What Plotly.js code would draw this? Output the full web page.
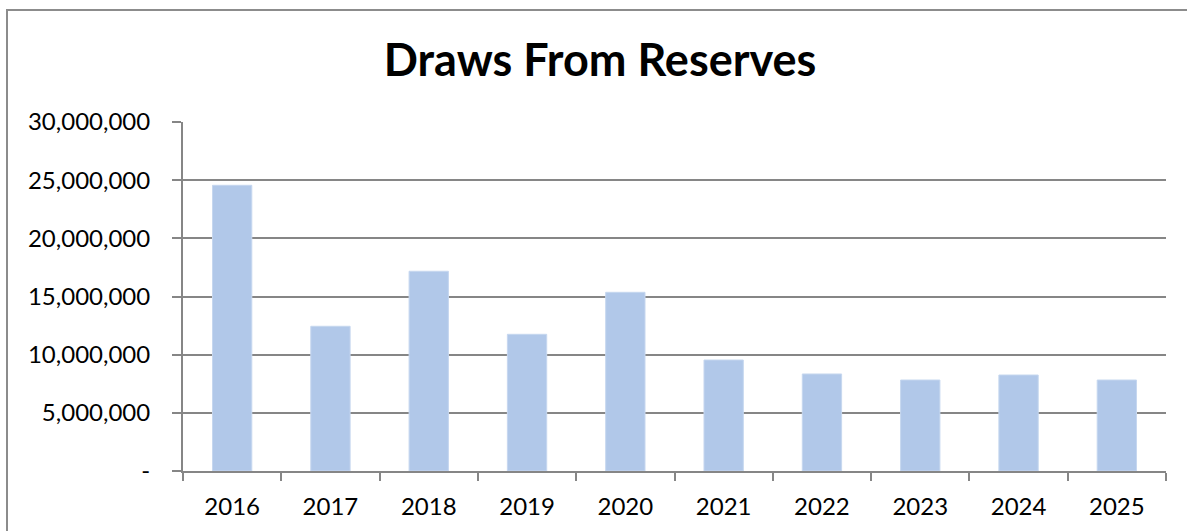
<!DOCTYPE html>
<html>
<head>
<meta charset="utf-8">
<script src="https://cdn.plot.ly/plotly-3.0.1.min.js"></script>
<style>
  html, body { margin: 0; padding: 0; background: #fff; }
  #wrap { position: relative; width: 1187px; height: 531px; overflow: hidden; }
  #chart { position: absolute; left: 0; top: 0; width: 1187px; height: 531px; }
  #frame { position: absolute; left: 6px; top: 9px; width: 1300px; height: 700px;
           border: 2px solid #8c8c8c; pointer-events: none; box-sizing: border-box; }
</style>
</head>
<body>
<div id="wrap">
  <div id="chart"></div>
  <div id="frame"></div>
</div>
<script>
const years = ["2016", "2017", "2018", "2019", "2020", "2021", "2022", "2023", "2024", "2025"];
const draws = [24560000, 12440000, 17170000, 11750000, 15360000, 9540000, 8340000, 7820000, 8250000, 7820000];
const yTickVals = [0, 5000000, 10000000, 15000000, 20000000, 25000000, 30000000];
const yTickText = ["-", "5,000,000", "10,000,000", "15,000,000", "20,000,000", "25,000,000", "30,000,000"];

const font = "Lato, 'Open Sans', sans-serif";

Plotly.newPlot("chart", [{
  type: "bar",
  x: years,
  y: draws,
  marker: { color: "#b1c8e9", line: { color: "#c6d7ef", width: 1 } },
  hoverinfo: "x+y"
}], {
  width: 1187,
  height: 531,
  margin: { l: 183, r: 21, t: 122, b: 60 },
  paper_bgcolor: "rgba(0,0,0,0)",
  plot_bgcolor: "#ffffff",
  bargap: 0.6,
  showlegend: false,
  title: {
    text: "<b>Draws From Reserves</b>",
    font: { family: font, size: 45, color: "#000" },
    x: 0.5055, xanchor: "center",
    y: 0.887, yanchor: "middle"
  },
  xaxis: {
    type: "category",
    tickson: "boundaries",
    ticks: "outside",
    ticklen: 8,
    tickcolor: "#868686",
    tickwidth: 2,
    showline: true,
    linecolor: "#868686",
    linewidth: 2,
    showgrid: false,
    tickfont: { family: font, size: 24, color: "#000" },
    ticklabelstandoff: 13,
    fixedrange: true
  },
  yaxis: {
    range: [0, 30000000],
    tickvals: yTickVals,
    ticktext: yTickText,
    ticks: "outside",
    ticklen: 9,
    tickcolor: "#868686",
    tickwidth: 2,
    showline: true,
    linecolor: "#868686",
    linewidth: 2,
    showgrid: true,
    gridcolor: "#868686",
    gridwidth: 2,
    zeroline: false,
    tickfont: { family: font, size: 24, color: "#000" },
    ticklabelstandoff: 17,
    fixedrange: true
  }
}, { displayModeBar: false, staticPlot: true });
</script>
</body>
</html>
